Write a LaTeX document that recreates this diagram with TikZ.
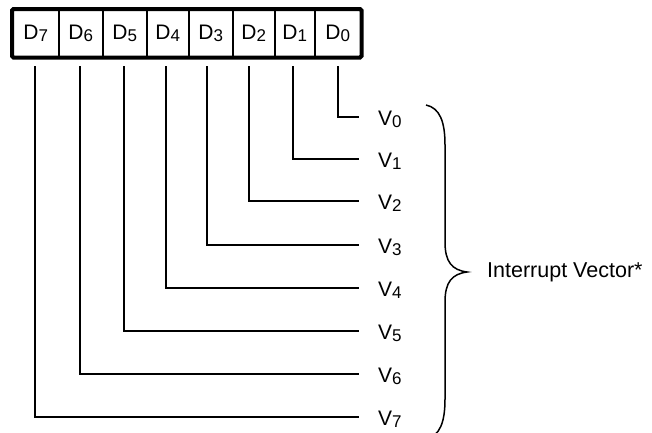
\documentclass[tikz,border=0pt]{standalone}
\usepackage{fontspec}
\setmainfont{Liberation Sans}
\newcommand{\sbx}[1]{\raisebox{-2pt}{\fontsize{17}{17}\selectfont #1}}
\begin{document}
\begin{tikzpicture}[x=1pt,y=-1pt,
  cell/.style={draw,line width=1.5pt,minimum height=47pt,inner sep=0pt,anchor=north west,font=\fontsize{21}{21}\selectfont},
  vlab/.style={anchor=west,inner sep=0pt,font=\fontsize{21}{21}\selectfont},
  wire/.style={line width=1.5pt},
  every node/.style={text=black}]
\useasboundingbox (0,0) rectangle (652,432);
\begin{scope}
\clip (0,0) rectangle (652,432);
% cells
\node[cell,minimum width=46pt] (d7) at (12,9) {D\sbx{7}};
\node[cell,minimum width=44pt] (d6) at (58,9) {D\sbx{6}};
\node[cell,minimum width=44pt] (d5) at (102,9) {D\sbx{5}};
\node[cell,minimum width=42pt] (d4) at (146,9) {D\sbx{4}};
\node[cell,minimum width=44pt] (d3) at (188,9) {D\sbx{3}};
\node[cell,minimum width=42pt] (d2) at (232,9) {D\sbx{2}};
\node[cell,minimum width=40pt] (d1) at (274,9) {D\sbx{1}};
\node[cell,minimum width=46pt] (d0) at (314,9) {D\sbx{0}};
\draw[line width=4pt,rounded corners=1.5pt] (d7.north west) rectangle (d0.south east);
% labels
\node[vlab] (v0) at (378,119) {V\sbx{0}};
\node[vlab] (v1) at (378,161) {V\sbx{1}};
\node[vlab] (v2) at (378,203) {V\sbx{2}};
\node[vlab] (v3) at (378,247) {V\sbx{3}};
\node[vlab] (v4) at (378,290) {V\sbx{4}};
\node[vlab] (v5) at (378,333) {V\sbx{5}};
\node[vlab] (v6) at (378,376) {V\sbx{6}};
\node[vlab] (v7) at (378,419) {V\sbx{7}};
% wires
\foreach \d/\v/\xx in {d0/v0/338,d1/v1/293,d2/v2/249,d3/v3/207,d4/v4/166,d5/v5/124,d6/v6/80,d7/v7/35}{
  \coordinate (s\d) at (\xx,66);
  \draw[wire] (s\d) |- ([xshift=-19pt,yshift=2pt]\v.west);
}
% brace
\draw[line width=1.5pt] (426,105) .. controls (440,108) and (445,122) .. (445,145)
  -- (445,242) .. controls (445,262) and (452,270) .. (467,272)
  .. controls (452,274) and (445,282) .. (445,302)
  -- (445,399) .. controls (445,422) and (440,436) .. (426,439);
\node[anchor=west,inner sep=0pt,font=\fontsize{21.5}{21.5}\selectfont] (iv) at (487,272) {Interrupt Vector*};
\end{scope}
\end{tikzpicture}
\end{document}
